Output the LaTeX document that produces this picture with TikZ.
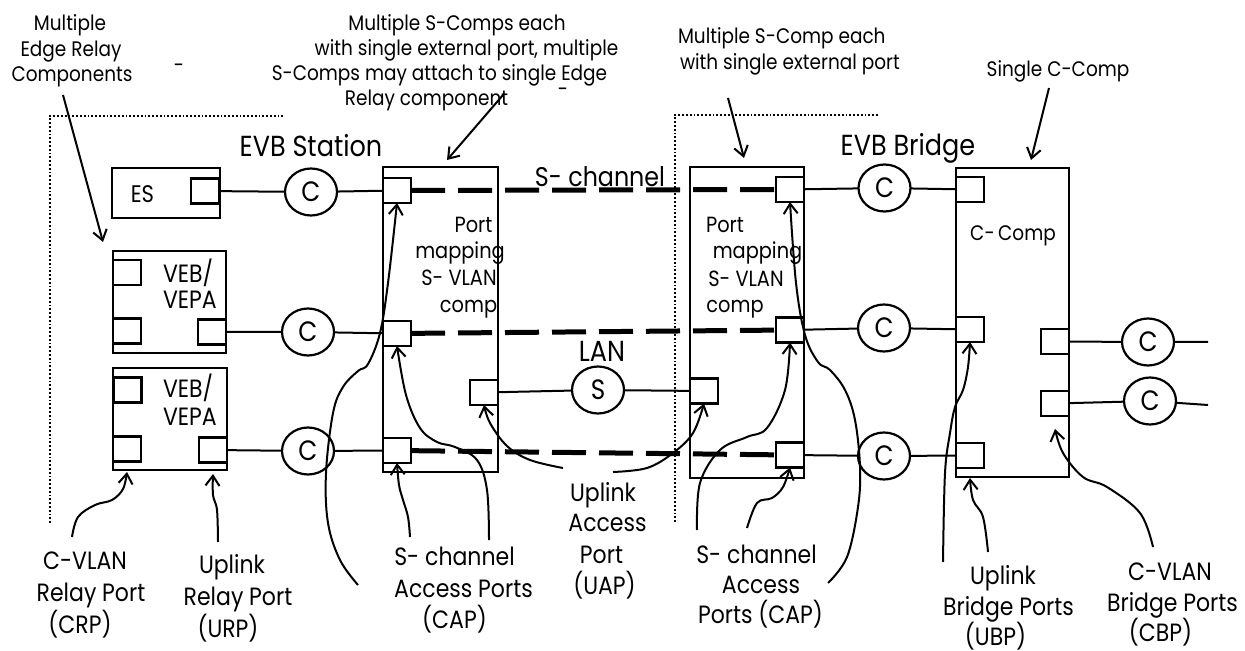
\documentclass[tikz,border=0pt]{standalone}
\usepackage{fontspec}
\setmainfont{Poppins}[FakeStretch=0.88]
\usetikzlibrary{arrows.meta,shapes.geometric,calc}
\begin{document}
\begin{tikzpicture}[x=0.5pt,y=-0.5pt,
  every node/.style={inner sep=0pt,outer sep=0pt},
  bigbox/.style={draw,line width=1.3pt},
  sz/.style 2 args={minimum width=#1*0.5pt,minimum height=#2*0.5pt},
  port/.style={draw,line width=1.1pt,minimum width=14pt,minimum height=12.5pt},
  circ/.style={draw,ellipse,line width=1.1pt,minimum width=26pt,minimum height=23.5pt,font=\fontsize{14}{14}\selectfont},
  lbl/.style={font=\fontsize{12.5}{14}\selectfont,anchor=base},
  tl/.style={font=\fontsize{10.5}{12}\selectfont,anchor=base},
  inl/.style={font=\fontsize{11}{12}\selectfont,anchor=base},
  big/.style={font=\fontsize{14.5}{16}\selectfont,anchor=base},
  wire/.style={line width=1pt},
  chan/.style={line width=2.5pt,dash pattern=on 17pt off 6.5pt},
  frame/.style={line width=0.9pt,densely dotted},
  arr/.style={line width=1pt,-{Straight Barb[length=5pt,width=7pt]}},
]
\path[use as bounding box,fill=white] (0,0) rectangle (1245,651);

% frames
\draw[frame] (50,523) -- (50,116) -- (285,116);
\draw[frame] (675,522) -- (675,115) -- (879,115);

% ---------------- station side
\node[bigbox,sz={108}{50}] (es) at (166,193) {};
\node[port] (esp) at (205,191) {};
\node[font=\fontsize{12}{14}\selectfont,anchor=base] (estxt) at (142.5,203) {ES};

\node[bigbox,sz={113}{102}] (veb1) at (169.5,302) {};
\node[port] (veb1tl) at (127,272.5) {};
\node[port] (veb1bl) at (127,331) {};
\node[port] (veb1br) at (212,332) {};
\node[lbl,anchor=base west] (veb1a) at (163,283) {VEB/};
\node[lbl,anchor=base west] (veb1b) at (163,309) {VEPA};

\node[bigbox,sz={114}{102}] (veb2) at (170,419) {};
\node[port] (veb2tl) at (127.5,390) {};
\node[port] (veb2bl) at (127,449) {};
\node[port] (veb2br) at (213,450) {};
\node[lbl,anchor=base west] (veb2a) at (163,398) {VEB/};
\node[lbl,anchor=base west] (veb2b) at (163,425) {VEPA};

\node[circ] (c1) at (311,192) {C};
\node[circ] (c2) at (308,332) {C};
\node[circ] (c3) at (308,451) {C};

\node[bigbox,sz={115}{305}] (ss) at (440.5,319.5) {};
\node[port] (sp1) at (397,190.5) {};
\node[port] (sp2) at (397,333.5) {};
\node[port] (sp3) at (397,450.5) {};
\node[port] (ua1) at (484,392.5) {};
\node[inl] (pm1) at (473.5,233) {Port};
\node[inl] (pm2) at (460,259) {mapping};
\node[inl] (pm3) at (459,286) {S- VLAN};
\node[inl] (pm4) at (468.5,313) {comp};

% ---------------- bridge side
\node[bigbox,sz={114}{311}] (bs) at (747,322.5) {};
\node[port] (bp1) at (790,189.5) {};
\node[port] (bp2) at (790,330) {};
\node[port] (bp3) at (790,455) {};
\node[port] (ua2) at (704,391) {};
\node[inl] (qm1) at (725,233) {Port};
\node[inl] (qm2) at (757.5,259) {mapping};
\node[inl] (qm3) at (746,287) {S- VLAN};
\node[inl] (qm4) at (735,313) {comp};

\node[circ] (c4) at (884.5,188) {C};
\node[circ] (c5) at (884,328) {C};
\node[circ] (c6) at (884,456) {C};

\node[bigbox,sz={113}{309}] (cc) at (1012.5,322.5) {};
\node[port] (cp1) at (970,189.5) {};
\node[port] (cp2) at (970,329.5) {};
\node[port] (cp3) at (970,455.5) {};
\node[port] (cp4) at (1055,341.5) {};
\node[port] (cp5) at (1055,403.5) {};
\node[tl] (cctxt) at (1013,241) {C-\,Comp};

\node[circ] (c7) at (1148,342) {C};
\node[circ] (c8) at (1150,401) {C};
\coordinate (e7) at (1208,342);
\coordinate (e8) at (1208,405);

\node[circ] (sc) at (598,390) {S};
\node[big] (lan) at (602,362) {LAN};

% ---------------- wires
\draw[wire] (esp) -- (c1) -- (sp1);
\draw[wire] (veb1br) -- (c2) -- (sp2);
\draw[wire] (veb2br) -- (c3) -- (sp3);
\draw[wire] (ua1) -- (sc) -- (ua2);
\draw[wire] (bp1) -- (c4) -- (cp1);
\draw[wire] (bp2) -- (c5) -- (cp2);
\draw[wire] (bp3) -- (c6) -- (cp3);
\draw[wire] (cp4) -- (c7) -- (e7);
\draw[wire] (cp5) -- (c8) -- (e8);

\draw[chan] (sp1) -- (bp1);
\draw[chan] (sp2) -- (bp2);
\draw[chan] (sp3) -- (bp3);
\node[font=\fontsize{13.5}{15}\selectfont,anchor=base] (schan) at (600,187) {S- channel};

% ---------------- titles
\node[big] (evbs) at (311,157) {EVB Station};
\node[big] (evbb) at (908,156) {EVB Bridge};

% ---------------- top labels
\node[tl] (m1) at (70,31) {Multiple};
\node[tl] (m2) at (71,57) {Edge Relay};
\node[tl] (m3) at (72,82) {Components};
\node[tl,anchor=center] (dsh1) at (179,68) {-};

\node[tl] (s1) at (457,31) {Multiple S-Comps each};
\node[tl] (s2) at (466.5,56) {with single external port, multiple};
\node[tl] (s3) at (439.5,81) {S-Comps may attach to single Edge};
\node[tl] (s4) at (426.5,106) {Relay component};
\node[tl,anchor=center] (dsh2) at (563,92) {-};

\node[tl,anchor=base west] (b1) at (678,44) {Multiple S-Comp each};
\node[tl,anchor=base west] (b2) at (680,70) {with single external port};
\node[tl] (g1) at (1058,77) {Single C-Comp};

\coordinate (a1s) at (63,95);   \coordinate (a1e) at (103,242);
\coordinate (a2s) at (503,95);  \coordinate (a2e) at (447,160);
\coordinate (a3s) at (728,98);  \coordinate (a3e) at (744,158);
\coordinate (a4s) at (1049,88); \coordinate (a4e) at (1031,160);
\draw[arr] (a1s) -- (a1e);
\draw[arr] (a2s) -- (a2e);
\draw[arr] (a3s) -- (a3e);
\draw[arr] (a4s) -- (a4e);

% ---------------- bottom labels
\node[lbl] (crp1) at (85,569) {C-VLAN};
\node[lbl] (crp2) at (91,601) {Relay Port};
\node[lbl] (crp3) at (80,633) {(CRP)};

\node[lbl] (urp1) at (232,573) {Uplink};
\node[lbl] (urp2) at (238,605) {Relay Port};
\node[lbl] (urp3) at (228,637) {(URP)};

\node[lbl] (cap1) at (454.5,565) {S- channel};
\node[lbl] (cap2) at (463.5,597) {Access Ports};
\node[lbl] (cap3) at (454.5,628) {(CAP)};

\node[lbl] (uap1) at (603,501) {Uplink};
\node[lbl] (uap2) at (607.5,531) {Access};
\node[lbl] (uap3) at (601.5,563) {Port};
\node[lbl] (uap4) at (604.5,594) {(UAP)};

\node[lbl] (bcap1) at (756.5,563) {S- channel};
\node[lbl] (bcap2) at (761,593) {Access};
\node[lbl] (bcap3) at (760.5,623) {Ports (CAP)};

\node[lbl] (ubp1) at (1003,584) {Uplink};
\node[lbl] (ubp2) at (1008.5,615) {Bridge Ports};
\node[lbl] (ubp3) at (995.5,645) {(UBP)};

\node[lbl] (cbp1) at (1170,580) {C-VLAN};
\node[lbl] (cbp2) at (1172.5,611) {Bridge Ports};
\node[lbl] (cbp3) at (1160.5,641) {(CBP)};

% ---------------- curved pointer arrows
\coordinate (crpT) at ([yshift=-1pt]veb2bl |- veb2.south);
\coordinate (urpT) at ([yshift=-2pt]veb2br |- veb2.south);
\coordinate (ubpT) at ([yshift=-0.5pt]cp3 |- cc.south);
\coordinate (cbpT) at ([yshift=-6.5pt]cp5.south);

\coordinate (crpS) at (72,537);
\coordinate (urpS) at (218,542);
\coordinate (scS1) at (410,537);
\coordinate (scS2) at (489,540);
\coordinate (scS3) at (358,585);
\coordinate (uaS1) at (563,468);
\coordinate (uaS2) at (613,472);
\coordinate (bcS2) at (697,530);
\coordinate (bcS3) at (747,528);
\coordinate (bcS1) at (828,583);
\coordinate (ubS3) at (988,552);
\coordinate (ubS2) at (943,562);
\coordinate (cbS) at (1153,547);

\draw[arr] plot[smooth,tension=0.6] coordinates {(crpS) (78,517) (95,505) (112,500) (123,489) (crpT)};
\draw[arr] plot[smooth,tension=0.6] coordinates {(urpS) (217,510) (213,495) (urpT)};
\draw[arr] plot[smooth,tension=0.6] coordinates {(scS1) (408,517) (403,500) (399,485) (sp3.south)};
\draw[arr] plot[smooth,tension=0.6] coordinates {(scS2) (487,490) (477,460) (455,447) (437,442) (420,428) (406,395) (sp2.south)};
\draw[arr] plot[smooth,tension=0.6] coordinates {(scS3) (340,560) (328,523) (326,473) (333,413) (343,387) (358,371) (368,364) (380,333) (388,283) (sp1.south)};
\draw[arr] plot[smooth,tension=0.6] coordinates {(uaS1) (530,460) (507,446) (490,423) (ua1.south)};
\draw[arr] plot[smooth,tension=0.6] coordinates {(uaS2) (647,468) (673,453) (693,433) (ua2.south)};
\draw[arr] plot[smooth,tension=0.6] coordinates {(bcS2) (700,483) (720,450) (747,437) (767,428) (785,390) (bp2.south)};
\draw[arr] plot[smooth,tension=0.6] coordinates {(bcS3) (757,503) (772,498) (783,487) (bp3.south)};
\draw[arr] plot[smooth,tension=0.6] coordinates {(bcS1) (847,557) (858,507) (860,467) (855,420) (845,390) (830,370) (818,362) (805,335) (796,283) (bp1.south)};
\draw[arr] plot[smooth,tension=0.6] coordinates {(ubS3) (983,517) (973,500) (ubpT)};
\draw[arr] plot[smooth,tension=0.6] coordinates {(ubS2) (945,473) (950,433) (955,407) (963,390) (968,367) (cp2.south)};
\draw[arr] plot[smooth,tension=0.6] coordinates {(cbS) (1140,513) (1107,487) (1083,477) (1063,453) (cbpT)};
\end{tikzpicture}
\end{document}
